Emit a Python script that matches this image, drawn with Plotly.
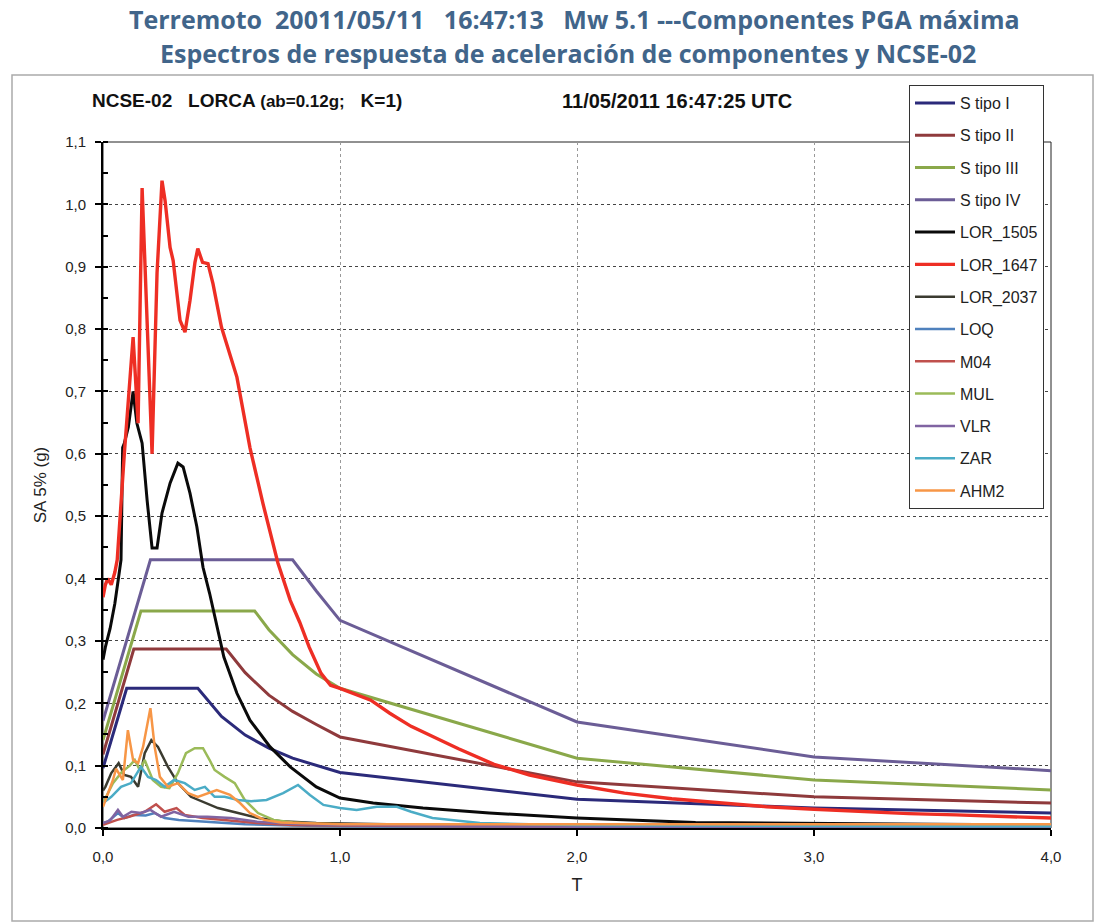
import plotly.graph_objects as go

# ---------------- data ----------------
S1_T = [0, 0.1, 0.4, 0.5, 0.6, 0.7, 0.8, 0.9, 1.0, 2.0, 3.0, 4.0]
S1_V = [0.096, 0.224, 0.224, 0.179, 0.149, 0.128, 0.112, 0.100, 0.089, 0.046, 0.032, 0.024]
S2_T = [0, 0.13, 0.52, 0.6, 0.7, 0.8, 0.9, 1.0, 2.0, 3.0, 4.0]
S2_V = [0.118, 0.287, 0.287, 0.249, 0.213, 0.187, 0.166, 0.146, 0.074, 0.050, 0.040]
S3_T = [0, 0.16, 0.64, 0.7, 0.8, 0.9, 1.0, 2.0, 3.0, 4.0]
S3_V = [0.141, 0.348, 0.348, 0.318, 0.278, 0.247, 0.224, 0.112, 0.077, 0.061]
S4_T = [0, 0.2, 0.8, 0.9, 1.0, 2.0, 3.0, 4.0]
S4_V = [0.172, 0.43, 0.43, 0.38, 0.333, 0.170, 0.114, 0.092]

LOR1505_T = [0, 0.01, 0.03, 0.05, 0.065, 0.076, 0.083, 0.09, 0.107, 0.127, 0.143, 0.165, 0.186, 0.207,
             0.228, 0.249, 0.283, 0.316, 0.338, 0.367, 0.396, 0.422, 0.45, 0.51, 0.565, 0.62, 0.705,
             0.79, 0.9, 1.0, 1.14, 1.35, 1.63, 2.0, 2.5, 3.0, 3.5, 4.0]
LOR1505_V = [0.27, 0.29, 0.32, 0.36, 0.40, 0.43, 0.61, 0.617, 0.643, 0.70, 0.649, 0.617, 0.526, 0.449,
             0.449, 0.505, 0.553, 0.585, 0.579, 0.537, 0.483, 0.418, 0.376, 0.274, 0.216, 0.173, 0.13,
             0.098, 0.066, 0.048, 0.04, 0.032, 0.024, 0.016, 0.009, 0.007, 0.006, 0.005]

LOR1647_T = [0, 0.01, 0.02, 0.035, 0.05, 0.06, 0.09, 0.127, 0.148, 0.165, 0.207, 0.228, 0.249, 0.262,
             0.283, 0.296, 0.325, 0.346, 0.367, 0.388, 0.40, 0.42, 0.443, 0.464, 0.50, 0.565, 0.62,
             0.675, 0.738, 0.79, 0.83, 0.87, 0.92, 0.96, 1.0, 1.07, 1.13, 1.21, 1.3, 1.4, 1.5, 1.65,
             1.8, 2.0, 2.2, 2.4, 2.6, 2.8, 3.0, 3.2, 3.4, 3.6, 3.8, 4.0]
LOR1647_V = [0.37, 0.39, 0.40, 0.39, 0.41, 0.43, 0.60, 0.787, 0.649, 1.026, 0.60, 0.89, 1.038, 1.006,
             0.931, 0.91, 0.814, 0.795, 0.846, 0.907, 0.929, 0.907, 0.905, 0.873, 0.803, 0.723, 0.61,
             0.52, 0.425, 0.365, 0.33, 0.29, 0.248, 0.229, 0.224, 0.214, 0.205, 0.184, 0.163, 0.145,
             0.127, 0.102, 0.085, 0.069, 0.056, 0.047, 0.040, 0.034, 0.030, 0.026, 0.023, 0.021, 0.019, 0.016]

LOR2037_T = [0, 0.01, 0.035, 0.066, 0.09, 0.118, 0.148, 0.176, 0.204, 0.232, 0.274, 0.316, 0.371, 0.43,
             0.485, 0.57, 0.654, 0.75, 0.9, 1.2, 1.6, 2.0, 3.0, 4.0]
LOR2037_V = [0.06, 0.066, 0.088, 0.104, 0.085, 0.082, 0.066, 0.12, 0.141, 0.13, 0.098, 0.072, 0.05, 0.04,
             0.032, 0.024, 0.016, 0.011, 0.008, 0.006, 0.005, 0.004, 0.003, 0.003]

LOQ_T = [0, 0.02, 0.063, 0.09, 0.13, 0.18, 0.218, 0.26, 0.32, 0.4, 0.5, 0.6, 0.8, 1.0, 1.5, 2.0, 3.0, 4.0]
LOQ_V = [0.008, 0.01, 0.024, 0.016, 0.021, 0.02, 0.024, 0.016, 0.013, 0.011, 0.008, 0.006, 0.004, 0.003,
         0.002, 0.002, 0.001, 0.001]

M04_T = [0, 0.06, 0.11, 0.176, 0.224, 0.26, 0.31, 0.345, 0.42, 0.5, 0.65, 0.8, 1.0, 1.5, 2.0, 3.0, 4.0]
M04_V = [0.005, 0.013, 0.018, 0.026, 0.038, 0.026, 0.032, 0.021, 0.016, 0.013, 0.008, 0.005, 0.004,
         0.003, 0.002, 0.001, 0.001]

MUL_T = [0, 0.042, 0.08, 0.113, 0.134, 0.155, 0.176, 0.21, 0.245, 0.28, 0.316, 0.35, 0.387, 0.422, 0.45,
         0.471, 0.513, 0.556, 0.598, 0.654, 0.72, 0.8, 0.9, 1.0, 1.5, 2.0, 3.0, 4.0]
MUL_V = [0.04, 0.072, 0.09, 0.10, 0.109, 0.093, 0.109, 0.077, 0.066, 0.064, 0.088, 0.12, 0.128, 0.128,
         0.109, 0.093, 0.082, 0.072, 0.045, 0.024, 0.013, 0.009, 0.007, 0.006, 0.004, 0.003, 0.002, 0.002]

VLR_T = [0, 0.03, 0.063, 0.084, 0.12, 0.16, 0.2, 0.245, 0.30, 0.36, 0.44, 0.54, 0.65, 0.8, 1.0, 1.5, 2.0, 3.0, 4.0]
VLR_V = [0.008, 0.012, 0.029, 0.018, 0.026, 0.024, 0.029, 0.018, 0.026, 0.018, 0.018, 0.016, 0.01,
         0.007, 0.005, 0.003, 0.002, 0.002, 0.001]

ZAR_T = [0, 0.035, 0.076, 0.118, 0.16, 0.19, 0.224, 0.26, 0.30, 0.345, 0.387, 0.43, 0.471, 0.513, 0.57,
         0.625, 0.69, 0.76, 0.823, 0.873, 0.93, 1.0, 1.07, 1.155, 1.24, 1.3, 1.39, 1.59, 1.8, 2.0, 2.5,
         3.0, 3.5, 4.0]
ZAR_V = [0.04, 0.05, 0.066, 0.072, 0.098, 0.082, 0.077, 0.066, 0.077, 0.072, 0.061, 0.066, 0.05, 0.05,
         0.045, 0.043, 0.045, 0.056, 0.069, 0.053, 0.037, 0.032, 0.029, 0.034, 0.034, 0.026, 0.016,
         0.008, 0.006, 0.005, 0.004, 0.003, 0.003, 0.003]

AHM2_T = [0, 0.042, 0.055, 0.084, 0.105, 0.127, 0.148, 0.169, 0.20, 0.218, 0.24, 0.274, 0.316, 0.359,
          0.40, 0.443, 0.48, 0.536, 0.578, 0.62, 0.68, 0.75, 0.9, 1.0, 1.5, 2.0, 3.0, 4.0]
AHM2_V = [0.034, 0.077, 0.095, 0.077, 0.157, 0.109, 0.104, 0.13, 0.192, 0.13, 0.082, 0.066, 0.072,
          0.056, 0.05, 0.056, 0.061, 0.053, 0.04, 0.024, 0.013, 0.009, 0.007, 0.006, 0.006, 0.006,
          0.006, 0.006]

X_TICKS = [0, 1, 2, 3, 4]
Y_TICKS = [0.0, 0.1, 0.2, 0.3, 0.4, 0.5, 0.6, 0.7, 0.8, 0.9, 1.0, 1.1]

series = [
    ("S tipo I", S1_T, S1_V, "#2b2a7a", 3.0),
    ("S tipo II", S2_T, S2_V, "#8f3a3c", 3.0),
    ("S tipo III", S3_T, S3_V, "#8aa84a", 3.0),
    ("S tipo IV", S4_T, S4_V, "#6b5d96", 3.0),
    ("LOR_1505", LOR1505_T, LOR1505_V, "#0a0a0a", 3.0),
    ("LOR_1647", LOR1647_T, LOR1647_V, "#ee2e24", 3.4),
    ("LOR_2037", LOR2037_T, LOR2037_V, "#3b3b30", 2.5),
    ("LOQ", LOQ_T, LOQ_V, "#4f81bd", 2.5),
    ("M04", M04_T, M04_V, "#c0504d", 2.5),
    ("MUL", MUL_T, MUL_V, "#9bbb59", 2.5),
    ("VLR", VLR_T, VLR_V, "#8064a2", 2.5),
    ("ZAR", ZAR_T, ZAR_V, "#4bacc6", 2.5),
    ("AHM2", AHM2_T, AHM2_V, "#f79646", 2.5),
]

fig = go.Figure()
for i, (name, t, v, col, w) in enumerate(series):
    fig.add_trace(go.Scatter(x=t, y=v, mode="lines", name=name, legendgroup=name,
                             line=dict(color=col, width=w)))

W, H = 1098, 922
L, R, T, B = 103, 47, 142, 94
pw, ph = W - L - R, H - T - B

def px(xp):
    return (xp - L) / pw

def py(yp):
    return (H - B - yp) / ph

fig.update_layout(
    width=W, height=H,
    margin=dict(l=L, r=R, t=T, b=B),
    paper_bgcolor="white", plot_bgcolor="white",
    separators=",.",
    font=dict(family="Liberation Sans, Arial, sans-serif", size=14, color="#222"),
    showlegend=True,
    legend=dict(x=px(909), y=py(85), xanchor="left", yanchor="top",
                bgcolor="white", bordercolor="#333", borderwidth=1,
                font=dict(size=16, color="#222"), tracegroupgap=8.5,
                itemwidth=40),
    xaxis=dict(range=[0, 4], tickvals=X_TICKS, tickformat=".1f",
               showgrid=True, gridcolor="#999", griddash="dot", gridwidth=1,
               showline=True, linecolor="black", linewidth=2,
               ticks="outside", ticklen=6, tickwidth=2, tickcolor="black",
               ticklabelstandoff=8, tickfont=dict(size=15),
               zeroline=False,
               title=dict(text="T", font=dict(size=18, color="#222"), standoff=14)),
    yaxis=dict(range=[0, 1.1], tickvals=Y_TICKS, tickformat=".1f",
               showgrid=True, gridcolor="#444", griddash="dot", gridwidth=1,
               showline=True, linecolor="black", linewidth=2,
               ticks="outside", ticklen=6, tickwidth=2, tickcolor="black",
               ticklabelstandoff=6, tickfont=dict(size=15),
               minor=dict(dtick=0.05, ticks="inside", ticklen=5, tickwidth=2, tickcolor="black",
                          showgrid=False),
               zeroline=False,
               title=dict(text="SA 5% (g)", font=dict(size=17, color="#222"), standoff=14)),
)

# plot-area top/right border and outer chart frame
fig.add_shape(type="rect", xref="paper", yref="paper", x0=0, x1=1, y0=0, y1=1,
              line=dict(color="#222", width=1), layer="below")
fig.add_shape(type="rect", xref="paper", yref="paper",
              x0=px(12), x1=px(1093), y0=py(921), y1=py(75),
              line=dict(color="#aaa", width=1.5), layer="below")

title_col = "#41658a"
fig.add_annotation(text="<b>Terremoto  20011/05/11   16:47:13   Mw 5.1 ---Componentes PGA máxima</b>",
                   xref="paper", yref="paper", x=px(574), y=py(19), xanchor="center", yanchor="middle",
                   showarrow=False, font=dict(family="Open Sans, sans-serif", size=25, color=title_col))
fig.add_annotation(text="<b>Espectros de respuesta de aceleración de componentes y NCSE-02</b>",
                   xref="paper", yref="paper", x=px(568), y=py(53), xanchor="center", yanchor="middle",
                   showarrow=False, font=dict(family="Open Sans, sans-serif", size=25, color=title_col))
fig.add_annotation(text="<b>NCSE-02   LORCA <span style='font-size:17px'>(ab=0.12g;</span>   K=1)</b>",
                   xref="paper", yref="paper", x=px(90), y=py(101), xanchor="left", yanchor="middle",
                   showarrow=False, font=dict(size=19, color="#111"))
fig.add_annotation(text="<b>11/05/2011 16:47:25 UTC</b>",
                   xref="paper", yref="paper", x=px(560), y=py(101), xanchor="left", yanchor="middle",
                   showarrow=False, font=dict(size=20, color="#111"))

fig.write_html("out.html")
